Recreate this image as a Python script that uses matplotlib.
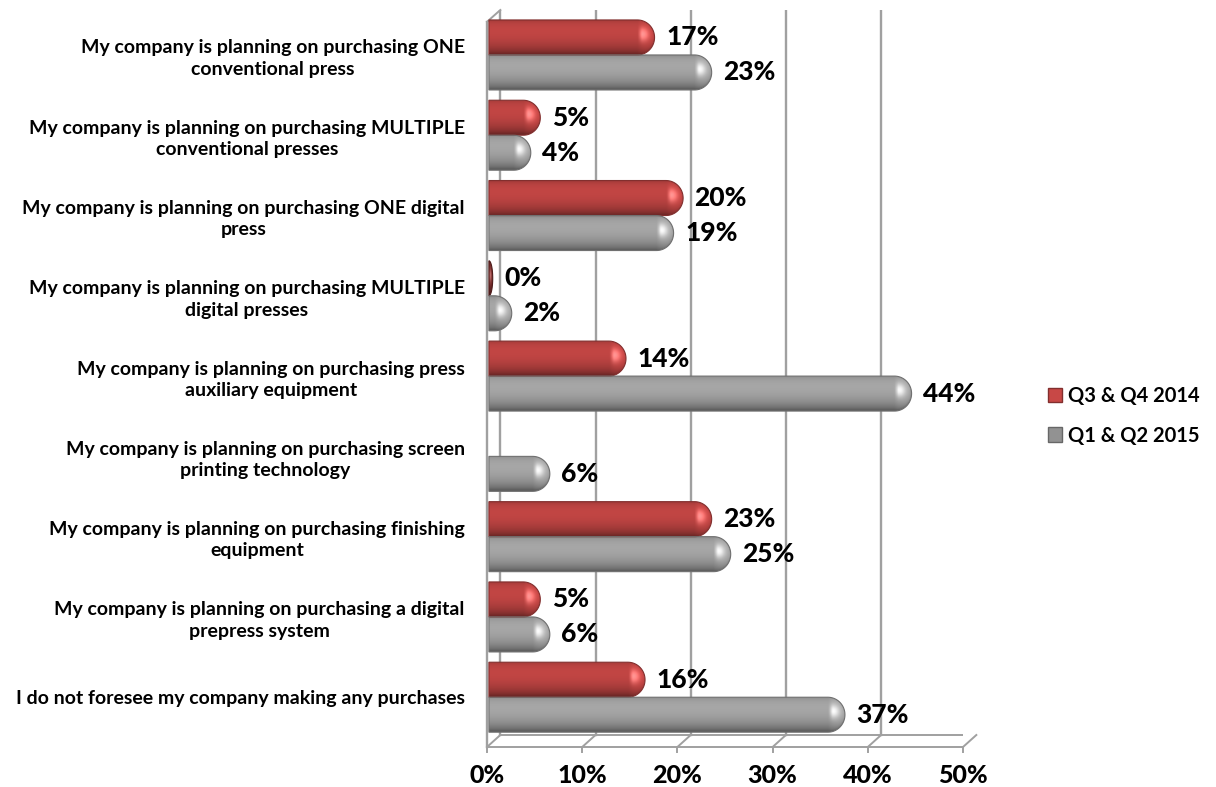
import numpy as np
import matplotlib
matplotlib.use("Agg")
import matplotlib.pyplot as plt
from matplotlib.path import Path
from matplotlib.patches import PathPatch, Patch
from matplotlib.transforms import blended_transform_factory

categories = [
    "My company is planning on purchasing ONE\nconventional press",
    "My company is planning on purchasing MULTIPLE\nconventional presses",
    "My company is planning on purchasing ONE digital\npress",
    "My company is planning on purchasing MULTIPLE\ndigital presses",
    "My company is planning on purchasing press\nauxiliary equipment",
    "My company is planning on purchasing screen\nprinting technology",
    "My company is planning on purchasing finishing\nequipment",
    "My company is planning on purchasing a digital\nprepress system",
    "I do not foresee my company making any purchases",
]
q34_2014 = [17, 5, 20, 0, 14, np.nan, 23, 5, 16]
q12_2015 = [23, 4, 19, 2, 44, 6, 25, 6, 37]
series_names = ["Q3 & Q4 2014", "Q1 & Q2 2015"]
xticks = [0, 10, 20, 30, 40, 50]

FONT = ["Lato", "DejaVu Sans"]
plt.rcParams["font.family"] = FONT
plt.rcParams["font.weight"] = "bold"

RED = np.array([200, 72, 70]) / 255.0
GRAY = np.array([172, 172, 172]) / 255.0

fig = plt.figure(figsize=(12.16, 7.87), dpi=100)
ax = fig.add_axes([487 / 1216, 40 / 787, 476 / 1216, 737 / 787])
ax.set_xlim(0, 50)
ax.set_ylim(8.62, -0.56)
for s in ax.spines.values():
    s.set_visible(False)

# depth of the 3d box (data units in x, axes fraction in y)
DX = 1.4
DY = 12 / 737.0
gc = "#a0a0a0"
bt = blended_transform_factory(ax.transData, ax.transAxes)

# back wall grid lines
for k in xticks:
    ax.plot([k + DX, k + DX], [DY, 1.0], color=gc, lw=1.7, transform=bt, zorder=0)
# floor
ax.plot([0, 50], [0, 0], color=gc, lw=1.4, transform=bt, zorder=0, clip_on=False)
ax.plot([DX, 50 + DX], [DY, DY], color=gc, lw=1.4, transform=bt, zorder=0)
for k in xticks:
    ax.plot([k, k + DX], [0, DY], color=gc, lw=1.4, transform=bt, zorder=0, clip_on=False)
    ax.plot([k, k], [0, -5 / 737], color=gc, lw=1.4, transform=bt, zorder=0, clip_on=False)
# left side wall
ax.plot([0, 0], [0, 0.984], color=gc, lw=1.7, transform=bt, zorder=0, clip_on=False)
ax.plot([0, DX], [0.984, 1.0], color=gc, lw=1.4, transform=bt, zorder=0, clip_on=False)


def cylinder(y, x0, x1, h, base, capw=1.8):
    w = max(min(capw, x1 - x0), 0.3)
    xc = x1 - w
    t = np.linspace(-np.pi / 2, np.pi / 2, 40)
    verts = [(x0, y - h / 2), (xc, y - h / 2)]
    verts += [(xc + w * np.cos(a), y + h / 2 * np.sin(a)) for a in t]
    verts += [(xc, y + h / 2), (x0, y + h / 2), (x0, y - h / 2)]
    codes = [Path.MOVETO] + [Path.LINETO] * (len(verts) - 2) + [Path.CLOSEPOLY]
    patch = PathPatch(Path(verts, codes), facecolor="none",
                      edgecolor=base * 0.65, lw=0.8, zorder=3)
    ax.add_patch(patch)

    nx, ny = 300, 80
    xs = np.linspace(min(x0, xc), x1, nx)
    ys = np.linspace(-1, 1, ny)
    X, Y = np.meshgrid(xs, ys)
    NX = np.where(X > xc, (X - xc) / w, 0.0)
    NY = Y
    NZ = np.sqrt(np.clip(1 - NX ** 2 - NY ** 2, 0, 1))
    L = np.array([0.55, -0.3, 0.78])
    L = L / np.linalg.norm(L)
    diff = np.clip(NX * L[0] + NY * L[1] + NZ * L[2], 0, 1)
    H = L + np.array([0, 0, 1.0])
    H = H / np.linalg.norm(H)
    # soft glint only on the rounded end
    spec = np.clip(NX * H[0] + NY * H[1] + NZ * H[2], 0, 1) ** 14
    spec = spec * np.clip(NX * 4, 0, 1)
    shade = 0.55 + 0.5 * diff
    img = base[None, None, :] * shade[..., None] + 0.3 * spec[..., None]
    img = np.clip(img, 0, 1)
    im = ax.imshow(img, extent=[xs[0], xs[-1], y + h / 2, y - h / 2],
                   origin="upper", aspect="auto", zorder=2, interpolation="bilinear")
    im.set_clip_path(patch)


pos = np.arange(len(categories))
h = 0.436
offset = 0.6   # bars sit half way into the box depth
start = 0.2
for i in pos:
    for vals, col, dy in ((q34_2014, RED, -h / 2), (q12_2015, GRAY, h / 2)):
        v = vals[i]
        if np.isnan(v):
            continue
        tip = v + offset
        cylinder(i + dy, start, tip, h, col if v > 0 else col * 0.6)
        ax.text(tip + 1.2, i + dy, f"{v:g}%", ha="left", va="center",
                fontsize=19, fontweight=900, color="black", zorder=5)

ax.set_yticks(pos)
ax.set_yticklabels(categories, fontsize=14, fontweight="bold",
                   multialignment="center", linespacing=1.3)
ax.tick_params(axis="y", length=0, pad=16)
ax.set_xticks(xticks)
ax.set_xticklabels([f"{k}%" for k in xticks], fontsize=18, fontweight=900)
ax.tick_params(axis="x", length=0, pad=12)

handles = [Patch(facecolor=RED, edgecolor=RED * 0.65),
           Patch(facecolor=GRAY * 0.85, edgecolor=GRAY * 0.6)]
fig.legend(handles, series_names, loc="center left",
           bbox_to_anchor=(1030 / 1216, 1 - 416 / 787), frameon=False,
           handlelength=0.7, handleheight=0.7, handletextpad=0.3,
           labelspacing=0.95, prop={"size": 14.5, "weight": "bold", "family": FONT})

fig.savefig("out.png", dpi=100)
